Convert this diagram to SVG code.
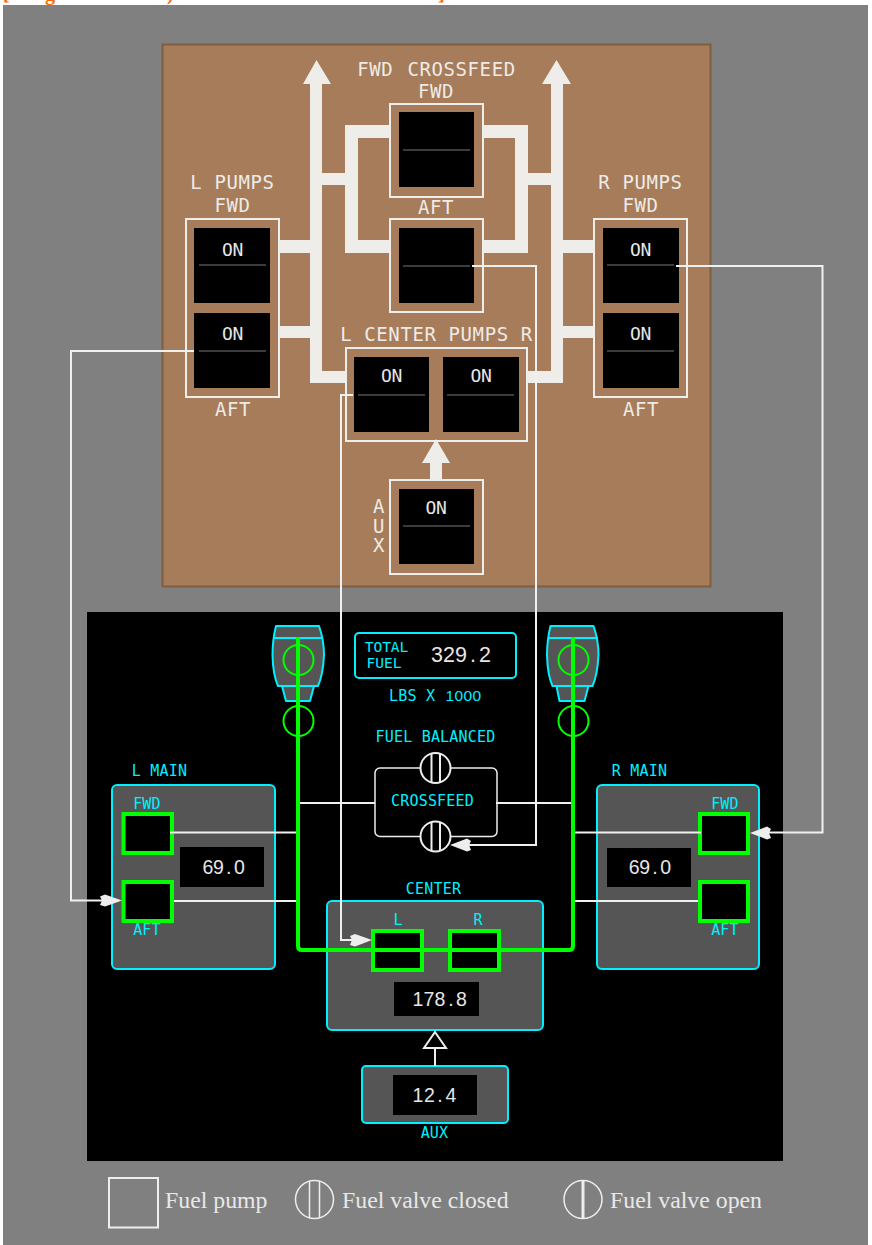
<svg xmlns="http://www.w3.org/2000/svg" width="872" height="1245" viewBox="0 0 872 1245">
<style>
text{font-family:"DejaVu Sans Mono",monospace;text-anchor:middle}
.pt{font-size:19px;letter-spacing:.6px;fill:#eeebe6}
.on{font-size:18px;letter-spacing:-.3px;fill:#e6e6e6}
.c{font-size:15px;letter-spacing:.2px;fill:#00f0ff}
.s{font-size:14.500px;fill:#00f0ff}
.v{font-family:"Liberation Sans",sans-serif;font-size:19.500px;fill:#e6e6e6;text-anchor:start}
.lg{font-family:"Liberation Serif",serif;font-size:23.800px;fill:#e8e8e8;text-anchor:start}
.frame{fill:none;stroke:#f0eeeb;stroke-width:2}
.sw{fill:#000}
.sl{stroke:#505050;stroke-width:1.5}
.pipe{fill:#efedea}
.wire{fill:none;stroke:#f0f0f0;stroke-width:2}
.tank{fill:#555;stroke:#00f0ff;stroke-width:2}
.gr{fill:none;stroke:#00ff00;stroke-width:4}
.pump{fill:#000;stroke:#00ff00;stroke-width:4}
.eng{fill:#555;stroke:#00f0ff;stroke-width:2;stroke-linejoin:round}
.ec{fill:none;stroke:#00ff00;stroke-width:2}
.val{fill:#000;stroke:#eee;stroke-width:2}
.head{fill:#eee}
</style>
<rect x="0" y="0" width="872" height="1245" fill="#fff"/>
<text id="clipped-title" y="0" style="font-family:'Liberation Serif',serif;font-weight:bold;font-size:20px;fill:#ff6600;text-anchor:start"><tspan x="3">[</tspan><tspan x="45">g</tspan><tspan x="167">)</tspan><tspan x="438">]</tspan></text>
<rect id="bg" x="3" y="5" width="865" height="1240" fill="#808080"/>
<g id="overhead-panel">
<rect x="162.500" y="44.500" width="548" height="542" fill="#a67c5a" stroke="#7f5f3f" stroke-width="2"/>
</g>
<g id="pipes">
<path class="pipe" d="M316.500 60L331 84H322V371H346V383H310V338H279V326H310V253H279V240H310V84H303Z"/>
<path class="pipe" d="M322 173H345V125H390V138H358V240H390V253H345V185H322Z"/>
<path class="pipe" d="M556.500 60L571 84H563V383H527V371H551V338H551V185H528V253H483V240H515V138H483V125H528V173H551V84H542Z"/>
<path class="pipe" d="M563 240H594V253H563ZM563 326H594V338H563Z"/>
<path class="pipe" d="M436 439L450 463H442V480H430V463H422Z"/>
</g>
<g id="l-pumps">
<rect class="frame" x="186" y="219" width="93" height="178"/>
<rect class="sw" x="194" y="228" width="76" height="75"/><rect class="sw" x="194" y="313" width="76" height="75"/>
<line class="sl" x1="199" y1="265" x2="266" y2="265"/><line class="sl" x1="199" y1="351" x2="266" y2="351"/>
<text class="on" x="232.500" y="256">ON</text><text class="on" x="232.500" y="340">ON</text>
<text class="pt" x="232.500" y="189">L PUMPS</text><text class="pt" x="232.500" y="212">FWD</text><text class="pt" x="233" y="416">AFT</text>
</g>
<g id="r-pumps">
<rect class="frame" x="594" y="219" width="93" height="178"/>
<rect class="sw" x="603" y="228" width="76" height="75"/><rect class="sw" x="603" y="313" width="76" height="75"/>
<line class="sl" x1="607" y1="265" x2="674" y2="265"/><line class="sl" x1="607" y1="351" x2="674" y2="351"/>
<text class="on" x="640.500" y="256">ON</text><text class="on" x="640.500" y="340">ON</text>
<text class="pt" x="640.500" y="189">R PUMPS</text><text class="pt" x="640.500" y="212">FWD</text><text class="pt" x="641" y="416">AFT</text>
</g>
<g id="crossfeed-switches">
<rect class="frame" x="390" y="104" width="93" height="93"/>
<rect class="frame" x="390" y="219" width="93" height="93"/>
<rect class="sw" x="399" y="112" width="75" height="75"/><rect class="sw" x="399" y="228" width="75" height="75"/>
<line class="sl" x1="403" y1="150" x2="470" y2="150"/><line class="sl" x1="403" y1="266" x2="470" y2="266"/>
<text class="pt" x="436.500" y="76" style="word-spacing:2px">FWD CROSSFEED</text><text class="pt" x="436" y="98">FWD</text><text class="pt" x="436" y="214">AFT</text>
</g>
<g id="center-pumps">
<rect class="frame" x="346" y="348" width="181" height="93"/>
<rect class="sw" x="354" y="357" width="75" height="75"/><rect class="sw" x="443" y="357" width="76" height="75"/>
<line class="sl" x1="358" y1="395" x2="425" y2="395"/><line class="sl" x1="447" y1="395" x2="514" y2="395"/>
<text class="on" x="391.500" y="382">ON</text><text class="on" x="481" y="382">ON</text>
<text class="pt" x="436.500" y="341">L CENTER PUMPS R</text>
</g>
<g id="aux-pump">
<rect class="frame" x="390" y="480" width="93" height="94"/>
<rect class="sw" x="399" y="489" width="75" height="75"/>
<line class="sl" x1="403" y1="526" x2="470" y2="526"/>
<text class="on" x="436" y="514">ON</text>
<text class="pt"><tspan x="379" y="513">A</tspan><tspan x="379" y="533">U</tspan><tspan x="379" y="552">X</tspan></text>
</g>
<g id="display">
<rect x="87" y="612" width="696" height="549" fill="#000"/>
</g>
<g id="left-engine">
<path class="eng" d="M276 626H319Q324 640 324 655Q323 675 318 686H278Q273 675 272.500 655Q272.500 640 276 626Z"/>
<path class="eng" d="M282 686H314L310 701H286Z"/>
<line x1="273" y1="638" x2="323" y2="638" stroke="#00f0ff" stroke-width="2"/>
<circle class="ec" cx="298.500" cy="660" r="15"/><circle class="ec" cx="298.500" cy="721" r="15"/>
</g>
<g id="right-engine">
<path class="eng" d="M550.500 626H593.500Q598.500 640 598.500 655Q597.500 675 592.500 686H552.500Q547.500 675 547 655Q547 640 550.500 626Z"/>
<path class="eng" d="M556.500 686H588.500L584.500 701H559.500Z"/>
<line x1="548" y1="638" x2="598" y2="638" stroke="#00f0ff" stroke-width="2"/>
<circle class="ec" cx="573.500" cy="660" r="15"/><circle class="ec" cx="573.500" cy="721" r="15"/>
</g>
<g id="total-fuel">
<rect x="355" y="633" width="161" height="45" rx="4" fill="none" stroke="#00f0ff" stroke-width="2"/>
<text class="s" x="386.500" y="652">TOTAL</text><text class="s" x="384" y="668">FUEL</text>
<text class="v" y="661.500" x="431 443 455 470 479" style="font-size:21.500px">329.2</text>
<text class="c" x="389" y="701" style="text-anchor:start">LBS X <tspan x="445.500 454.500 463.500 472.500" style="font-family:'Liberation Sans',sans-serif;font-size:15.500px">1000</tspan></text>
<text class="c" x="435.500" y="742">FUEL BALANCED</text>
</g>
<g id="l-main">
<rect class="tank" x="112" y="785" width="163" height="184" rx="5"/>
<text class="c" x="159.500" y="776">L MAIN</text>
<text class="c" x="147" y="809">FWD</text><text class="c" x="147" y="935">AFT</text>
<rect class="pump" x="123.500" y="814" width="48.500" height="39"/>
<rect class="pump" x="123.500" y="882" width="48.500" height="39"/>
<rect class="sw" x="180" y="847" width="84" height="40"/>
<text class="v" y="874" x="202.500 213 226 234">69.0</text>
</g>
<g id="r-main">
<rect class="tank" x="597" y="785" width="162" height="184" rx="5"/>
<text class="c" x="639.500" y="776">R MAIN</text>
<text class="c" x="725" y="809">FWD</text><text class="c" x="725" y="935">AFT</text>
<rect class="pump" x="700" y="814" width="48" height="39"/>
<rect class="pump" x="700" y="882" width="48" height="39"/>
<rect class="sw" x="607" y="848" width="84" height="39"/>
<text class="v" y="874" x="628.800 639.300 652.300 660.300">69.0</text>
</g>
<g id="center-tank">
<rect class="tank" x="327" y="901" width="216" height="129" rx="5"/>
<text class="c" x="433.500" y="894">CENTER</text>
<text class="c" x="398" y="925">L</text><text class="c" x="478" y="925">R</text>
<rect class="pump" x="373" y="931" width="49" height="39"/>
<rect class="pump" x="450" y="931" width="49" height="39"/>
<rect class="sw" x="394" y="982" width="85" height="34"/>
<text class="v" y="1006" x="412.500 423.500 434.500 448.300 456">178.8</text>
</g>
<g id="aux-tank">
<rect class="tank" x="362" y="1066" width="146" height="57" rx="4"/>
<rect class="sw" x="393" y="1075" width="84" height="40"/>
<text class="v" y="1102" x="412.500 424 437.300 445.500">12.4</text>
<text class="c" x="434.500" y="1138">AUX</text>
</g>
<g id="connectors">
<path class="wire" d="M194 351H71V900.500H104"/>
<path class="wire" d="M353 395H341V940H354"/>
<path class="wire" d="M472 266H536V845H468"/>
<path class="wire" d="M676 266H822.500V832.500H769"/>
<path class="head" d="M122 900.500L105 894.500L100 896.500L102 900.500L100 905L105 906.500Z"/>
<path class="head" d="M372 940L355 934L350 936L352 940L350 945L355 946.500Z"/>
<path class="head" d="M450 845L467 838.500L471 841L469 845L471 850L467 851.500Z"/>
<path class="head" d="M750 833L767 826.500L771 829L769 833L771 838L767 839.500Z"/>
<path class="wire" d="M300 803H375M496 803H571M170 832.500H299M174 901H297M575 832.500H701M575 901H698"/>
<path d="M435 1048V1066" class="wire"/>
<path d="M435 1032L446 1048H424Z" fill="#000" stroke="#eee" stroke-width="2"/>
<path class="gr" d="M298 637V946Q298 950 302 950H569Q573 950 573 946V637" stroke-linejoin="round"/>
</g>
<g id="crossfeed-valves">
<rect x="375" y="768" width="122" height="68.500" rx="5" fill="none" stroke="#eee" stroke-width="1.500"/>
<text class="c" x="432.500" y="806">CROSSFEED</text>
<circle class="val" cx="435.500" cy="768" r="15"/><path d="M431.500 754V782M440 754V782" stroke="#eee" stroke-width="2"/>
<circle class="val" cx="435.500" cy="836.500" r="15"/><path d="M431.500 822V851M440 822V851" stroke="#eee" stroke-width="2"/>
</g>
<g id="legend">
<rect x="109" y="1178" width="49" height="49.500" fill="none" stroke="#eee" stroke-width="2"/>
<text class="lg" x="165" y="1208">Fuel pump</text>
<circle cx="314.500" cy="1199.500" r="19" fill="none" stroke="#eee" stroke-width="1.500"/>
<path d="M309.500 1181V1218M319.500 1181V1218" stroke="#eee" stroke-width="1.500"/>
<text class="lg" x="342" y="1208">Fuel valve closed</text>
<circle cx="583" cy="1199.500" r="19" fill="none" stroke="#eee" stroke-width="1.500"/>
<path d="M583 1180V1219" stroke="#eee" stroke-width="3"/>
<text class="lg" x="610" y="1208">Fuel valve open</text>
</g>
</svg>
